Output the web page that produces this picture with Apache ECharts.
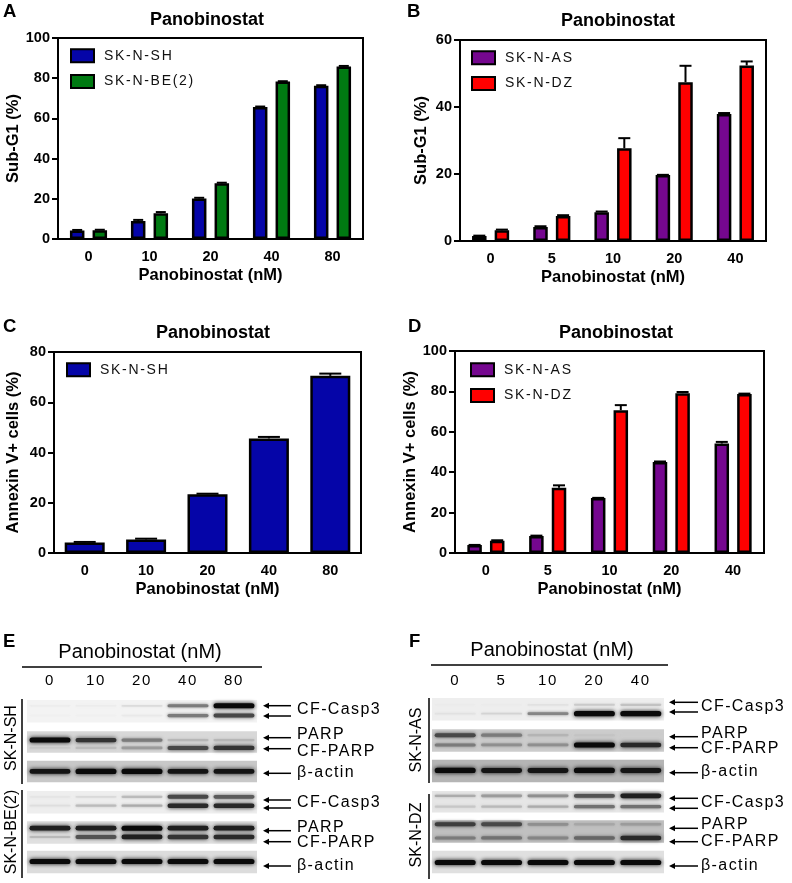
<!DOCTYPE html>
<html><head><meta charset="utf-8">
<style>html,body{margin:0;padding:0;background:#fff}#c{width:792px;height:883px}</style>
<script src="https://cdn.jsdelivr.net/npm/echarts@6/dist/echarts.min.js"></script>
</head><body><div id="c"></div>
<script>
// letter-spaced face for the legend and blot labels
const fd=Object.getOwnPropertyDescriptor(CanvasRenderingContext2D.prototype,'font');
Object.defineProperty(CanvasRenderingContext2D.prototype,'font',{
  get(){return fd.get.call(this)},
  set(v){fd.set.call(this,v);this.letterSpacing=/Arial/.test(v)?(/16px/.test(v)?'1.4px':'1.7px'):'0px'}
});
const SP='Arial, "Liberation Sans"', FF='"Liberation Sans"';

// ---------- data ----------
const dosesA=['0','10','20','40','80'];
const dosesB=['0','5','10','20','40'];
const subG1_SH=[4.2,9,20.2,65.7,76.2];
const subG1_SH_err=[0.3,0.5,0.3,0.2,0.3];
const subG1_BE=[4.4,12.8,27.7,78.3,85.8];
const subG1_BE_err=[0.2,0.6,0.3,0.2,0.3];
const subG1_AS=[1.5,4.2,8.6,19.7,37.9];
const subG1_AS_err=[0.1,0.2,0.2,0.05,0.3];
const subG1_DZ=[3.2,7.5,27.7,47.4,52.4];
const subG1_DZ_err=[0.2,0.2,3,4.9,1.2];
const annexin_SH=[4.2,5.4,23.4,45.6,70.5];
const annexin_SH_err=[0.2,0.3,0.2,0.6,0.9];
const annexin_AS=[3.9,8.4,27.2,45.1,54.2];
const annexin_AS_err=[0.1,0.2,0.1,0.2,0.8];
const annexin_DZ=[6.1,32.3,70.7,79.1,78.7];
const annexin_DZ_err=[0.2,1.2,2.5,0.6,0.2];

// blot band intensities per lane (0 to 1)
const blotE=[
  [.02,.03,.1,.45,1],[0,0,.04,.45,.7],
  [1,.8,.45,.2,.2],[.12,.18,.3,.7,.8],
  [.95,1,1,.95,.95],
  [.04,.1,.2,.7,.6],[.08,.2,.25,.85,.85],
  [.9,.9,1,.9,.9],[.2,.65,.9,.8,.85],
  [1,1,1,1,1]];
const blotF=[
  [0,0,.06,.15,.18],[.06,.12,.4,1,1],
  [.7,.45,.2,.12,.06],[.45,.35,.35,1,.85],
  [1,.95,.95,1,.95],
  [.25,.3,.35,.65,.9],[.15,.2,.25,.5,.5],
  [.75,.7,.35,.25,.3],[.45,.5,.4,.55,.85],
  [1,1,1,1,1]];
const bandRowE=[9,19,44,52,76,102,111,134,143,168];
const bandRowF=[8,17,39,49,75,101,112,130,144,169];
const stripsE=[[3,26,243],[35,57,216],[65,87,200],[96,119,238],[127,150,224],[157,180,220]];
const stripsF=[[1,24,238],[33,56,204],[64,87,181],[96,118,230],[126,149,192],[157,180,224]];

// ---------- colours ----------
const BLUE='#0505A8',GREEN='#007A12',PURPLE='#75078F',RED='#FF0000';

const grids=[
 {left:58,top:38,width:305,height:201},
 {left:460,top:40,width:306,height:201},
 {left:54,top:352,width:307,height:201},
 {left:455,top:351,width:309,height:202},
 {left:27,top:697,width:230,height:190},
 {left:432,top:697,width:232,height:190}
];
grids.forEach((g,i)=>{g.show=i<4;g.borderColor='#000';g.borderWidth=2;g.backgroundColor='transparent'});

const catAxis=(i,d)=>({gridIndex:i,type:'category',data:d,
  name:'Panobinostat (nM)',nameLocation:'middle',nameGap:28,
  nameTextStyle:{fontFamily:FF,fontWeight:'bold',fontSize:16.5,color:'#000'},
  axisTick:{show:false},axisLine:{lineStyle:{color:'#000',width:2}},
  axisLabel:{fontFamily:FF,fontWeight:'bold',fontSize:14.5,color:'#000',margin:10}});
const valAxis=(i,max,step,name,gap)=>({gridIndex:i,type:'value',min:0,max:max,interval:step,
  name:name,nameLocation:'middle',nameGap:gap,
  nameTextStyle:{fontFamily:FF,fontWeight:'bold',fontSize:16.5,color:'#000'},
  splitLine:{show:false},axisTick:{show:true,length:6,lineStyle:{color:'#000',width:2}},
  axisLine:{show:true,lineStyle:{color:'#000',width:2}},
  axisLabel:{fontFamily:FF,fontWeight:'bold',fontSize:14.5,color:'#000',margin:8}});
const laneAxis=(i,d)=>({gridIndex:i,type:'category',data:d,position:'top',
  axisTick:{show:false},axisLine:{show:false},
  axisLabel:{fontFamily:SP,fontSize:15,color:'#000',margin:8}});
const rowAxis=i=>({gridIndex:i,type:'value',min:0,max:190,inverse:true,show:false});

function bar(i,name,vals,color,w,gap){
  return {type:'bar',name:name,xAxisIndex:i,yAxisIndex:i,data:vals,barWidth:w,barGap:gap,z:3,
    itemStyle:{color:color,borderColor:'#000',borderWidth:2.5}};
}
function err(i,vals,errs,off,cap){
  return {type:'custom',xAxisIndex:i,yAxisIndex:i,silent:true,z:2,clip:false,
    data:vals.map((v,k)=>[k,v,v+errs[k]]),
    encode:{x:0,y:[1,2]},
    renderItem:(p,api)=>{
      const a=api.coord([api.value(0),api.value(1)]),b=api.coord([api.value(0),api.value(2)]);
      const x=a[0]+off,s={stroke:'#000',lineWidth:2};
      return {type:'group',children:[
        {type:'line',shape:{x1:x,y1:a[1],x2:x,y2:b[1]},style:s},
        {type:'line',shape:{x1:x-cap/2,y1:b[1],x2:x+cap/2,y2:b[1]},style:s}]};
    }};
}
function strips(i,list){
  return {type:'custom',xAxisIndex:i,yAxisIndex:i,silent:true,z:1,data:list,
    encode:{y:[0,1]},
    renderItem:(p,api)=>{
      const c=p.coordSys,v=api.value(2);
      const y0=api.coord([0,api.value(0)])[1],y1=api.coord([0,api.value(1)])[1];
      return {type:'rect',shape:{x:c.x,y:y0,width:c.width,height:y1-y0},style:{fill:`rgb(${v},${v},${v})`}};
    }};
}
function bands(i,matrix,rows){
  const data=[];
  matrix.forEach((r,k)=>r.forEach((v,l)=>data.push([l,rows[k],v])));
  return {type:'custom',xAxisIndex:i,yAxisIndex:i,silent:true,z:2,data:data,
    encode:{x:0,y:1},
    renderItem:(p,api)=>{
      const t=api.value(2),c=api.coord([api.value(0),api.value(1)]);
      const g=Math.round(215-205*t),col=`rgb(${g},${g},${g})`;
      const h=1.5+3.6*t,w=41;
      return {type:'rect',shape:{x:c[0]-w/2,y:c[1]-h/2,width:w,height:h,r:h/2},
        style:{fill:col,shadowColor:col,shadowBlur:2+t*2.5,opacity:Math.min(1,t*3+.05)}};
    }};
}

// annotation helpers
const gfx=[];
function txt(t,x,y,o={}){gfx.push({type:'text',x:x,y:y,rotation:o.rot||0,silent:true,z:10,
  style:{text:t,fill:'#000',font:`${o.w||'normal'} ${o.s||16}px ${o.f||SP}`,
    textAlign:o.a||'left',textVerticalAlign:'middle'}})}
function ln(x1,y1,x2,y2,w=1.5){gfx.push({type:'line',silent:true,z:10,shape:{x1,y1,x2,y2},style:{stroke:'#000',lineWidth:w}})}
function arrow(x1,x2,y){ln(x1+4,y,x2,y);gfx.push({type:'polygon',silent:true,z:10,
  shape:{points:[[x1,y],[x1+6,y-3],[x1+6,y+3]]},style:{fill:'#000'}})}

[['A',3,12],['B',407,12],['C',3,327],['D',408,327],['E',3,642],['F',409,642]]
  .forEach(a=>txt(a[0],a[1],a[2],{w:'bold',s:18.5,f:FF}));
[[207,20],[618,21],[213,333],[616,333]].forEach(a=>txt('Panobinostat',a[0],a[1],{w:'bold',s:18,f:FF,a:'center'}));

// panel E annotations
txt('Panobinostat (nM)',140,652,{s:20,f:FF,a:'center'});
ln(22,667,262,667);
ln(22,699,22,784);ln(22,790,22,878);
txt('SK-N-SH',12,738,{rot:Math.PI/2,s:16,f:FF,a:'center'});
txt('SK-N-BE(2)',12,832,{rot:Math.PI/2,s:16,f:FF,a:'center'});
[705.7,716,737.7,748.7,773.3,800,808,830.7,841.7,866].forEach(y=>arrow(263,291,y));
[['CF-Casp3',710],['PARP',735],['CF-PARP',752],['β-actin',773],['CF-Casp3',803],['PARP',828],['CF-PARP',843],['β-actin',866]]
  .forEach(a=>txt(a[0],297,a[1]));

// panel F annotations
txt('Panobinostat (nM)',552,650,{s:20,f:FF,a:'center'});
ln(431,665,668,665);
ln(429,698,429,783);ln(429,794,429,879);
txt('SK-N-AS',417,740,{rot:Math.PI/2,s:16,f:FF,a:'center'});
txt('SK-N-DZ',417,835,{rot:Math.PI/2,s:16,f:FF,a:'center'});
[702.3,712,736.7,747.7,772.7,798.3,808.3,828.3,841.7,866].forEach(y=>arrow(669,698,y));
[['CF-Casp3',707],['PARP',734],['CF-PARP',749],['β-actin',772],['CF-Casp3',803],['PARP',825],['CF-PARP',842],['β-actin',866]]
  .forEach(a=>txt(a[0],701,a[1]));

const legendStyle={fontFamily:SP,fontSize:14,color:'#111',padding:[0,0,0,5]};
const leg=(names,left,top)=>({data:names,orient:'vertical',left,top,padding:0,itemWidth:23,itemHeight:13,itemGap:10,
  icon:'rect',selectedMode:false,textStyle:legendStyle,itemStyle:{borderColor:'#000',borderWidth:2}});

const chart=echarts.init(document.getElementById('c'),null,{renderer:'canvas'});
chart.setOption({
  animation:false,backgroundColor:'#fff',
  grid:grids,
  legend:[leg(['SK-N-SH','SK-N-BE(2)'],70,48),leg(['SK-N-AS','SK-N-DZ'],471,50),
          leg(['SK-N-SH'],66,362),leg(['SK-N-AS','SK-N-DZ'],470,362)],
  xAxis:[catAxis(0,dosesA),catAxis(1,dosesB),catAxis(2,dosesA),catAxis(3,dosesB),laneAxis(4,dosesA),laneAxis(5,dosesB)],
  yAxis:[valAxis(0,100,20,'Sub-G1 (%)',36),valAxis(1,60,20,'Sub-G1 (%)',30),
         valAxis(2,80,20,'Annexin V+ cells (%)',32),valAxis(3,100,20,'Annexin V+ cells (%)',26),rowAxis(4),rowAxis(5)],
  series:[
    err(0,subG1_SH,subG1_SH_err,-11.3,10),err(0,subG1_BE,subG1_BE_err,11.3,10),
    bar(0,'SK-N-SH',subG1_SH,BLUE,14.5,'56%'),bar(0,'SK-N-BE(2)',subG1_BE,GREEN,14.5,'56%'),
    err(1,subG1_AS,subG1_AS_err,-11.3,12),err(1,subG1_DZ,subG1_DZ_err,11.3,12),
    bar(1,'SK-N-AS',subG1_AS,PURPLE,14.5,'56%'),bar(1,'SK-N-DZ',subG1_DZ,RED,14.5,'56%'),
    err(2,annexin_SH,annexin_SH_err,0,22),
    bar(2,'SK-N-SH',annexin_SH,BLUE,40,'0%'),
    err(3,annexin_AS,annexin_AS_err,-11.3,12),err(3,annexin_DZ,annexin_DZ_err,11.3,12),
    bar(3,'SK-N-AS',annexin_AS,PURPLE,14.5,'56%'),bar(3,'SK-N-DZ',annexin_DZ,RED,14.5,'56%'),
    strips(4,stripsE),bands(4,blotE,bandRowE),
    strips(5,stripsF),bands(5,blotF,bandRowF)
  ],
  graphic:{elements:gfx}
});
</script></body></html>
